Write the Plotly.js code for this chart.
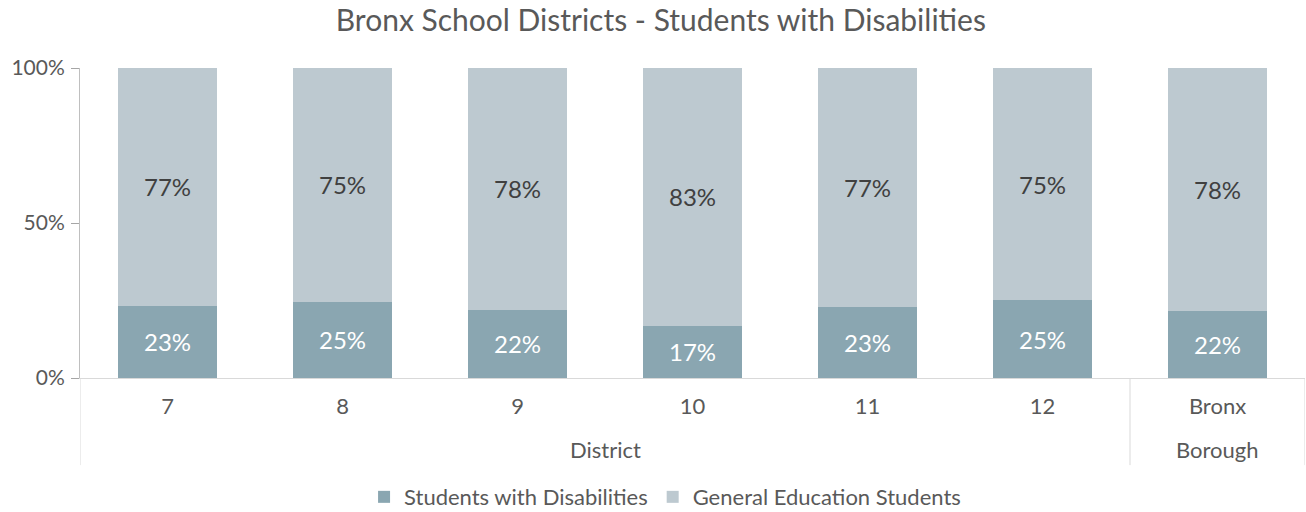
<!DOCTYPE html>
<html>
<head>
<meta charset="utf-8">
<script src="https://cdn.plot.ly/plotly-3.0.1.min.js"></script>
<style>html,body{margin:0;padding:0;background:#fff;}#chart{width:1306px;height:512px;}</style>
</head>
<body>
<div id="chart"></div>
<script>
const groups = ["District","District","District","District","District","District","Borough"];
const categories = ["7","8","9","10","11","12","Bronx"];
const swd = [23.3, 24.6, 22.0, 16.9, 23.0, 25.1, 21.6];
const genEd = [76.7, 75.4, 78.0, 83.1, 77.0, 74.9, 78.4];
const seriesNames = ["Students with Disabilities", "General Education Students"];
const yTickVals = [0, 50, 100];
const yTickText = ["0%", "50%", "100%"];

const FONT = "Lato, 'Open Sans', sans-serif";
const GREY = "#595959";
const LINE = "#d9d9d9";

const traces = [
  {
    type: "bar", name: seriesNames[0], x: categories, y: swd,
    marker: {color: "#8aa6b1"},
    texttemplate: "%{y:.0f}%", textposition: "inside", insidetextanchor: "middle",
    textfont: {family: FONT, size: 24, color: "#ffffff"}, hoverinfo: "none"
  },
  {
    type: "bar", name: seriesNames[1], x: categories, y: genEd,
    marker: {color: "#bdc9d0"},
    texttemplate: "%{y:.0f}%", textposition: "inside", insidetextanchor: "middle",
    textfont: {family: FONT, size: 24, color: "#404040"}, hoverinfo: "none"
  }
];

// group labels and dividers built from the groups array
const annotations = [];
const shapes = [];
const divBottom = -0.281;
let start = 0;
for (let i = 1; i <= groups.length; i++) {
  if (i === groups.length || groups[i] !== groups[start]) {
    annotations.push({
      text: groups[start], xref: "x", yref: "paper",
      x: (start + i - 1) / 2, y: -0.232, xanchor: "center", yanchor: "middle",
      showarrow: false, font: {family: FONT, size: 22, color: GREY}
    });
    start = i;
  }
}
const bounds = [-0.5];
for (let i = 1; i < groups.length; i++) if (groups[i] !== groups[i - 1]) bounds.push(i - 0.5);
bounds.push(groups.length - 0.5);
bounds.forEach(b => shapes.push({
  type: "line", xref: "x", yref: "paper", x0: b, x1: b, y0: 0, y1: divBottom,
  line: {color: LINE, width: 1}
}));

const layout = {
  width: 1306, height: 512,
  barmode: "stack", bargap: 0.43,
  margin: {l: 80, r: 1, t: 68, b: 134, autoexpand: false},
  paper_bgcolor: "#fff", plot_bgcolor: "#fff",
  font: {family: FONT, color: GREY, size: 21},
  title: {text: "Bronx School Districts - Students with Disabilities", x: 0.506, xanchor: "center", y: 0.96, yanchor: "middle",
          font: {family: FONT, size: 30, color: GREY}},
  xaxis: {
    type: "category", range: [-0.5, categories.length - 0.5],
    showline: true, linecolor: LINE, linewidth: 1,
    ticks: "", ticklabelstandoff: 9,
    tickfont: {family: FONT, size: 22, color: GREY}, showgrid: false
  },
  yaxis: {
    range: [0, 100], tickmode: "array", tickvals: yTickVals, ticktext: yTickText,
    showline: true, linecolor: "#bfbfbf", linewidth: 1, ticks: "outside", ticklen: 8, tickcolor: "#a6a6a6", tickwidth: 1,
    ticklabelstandoff: 2,
    showgrid: false, zeroline: false, tickfont: {family: FONT, size: 21, color: GREY}
  },
  legend: {orientation: "h", x: 0.4776, xanchor: "center", y: -0.384, yanchor: "middle",
           font: {family: FONT, size: 22, color: GREY}, traceorder: "normal", itemwidth: 30},
  annotations: annotations,
  shapes: shapes,
  showlegend: true
};

Plotly.newPlot("chart", traces, layout, {displayModeBar: false, staticPlot: true});
</script>
</body>
</html>
